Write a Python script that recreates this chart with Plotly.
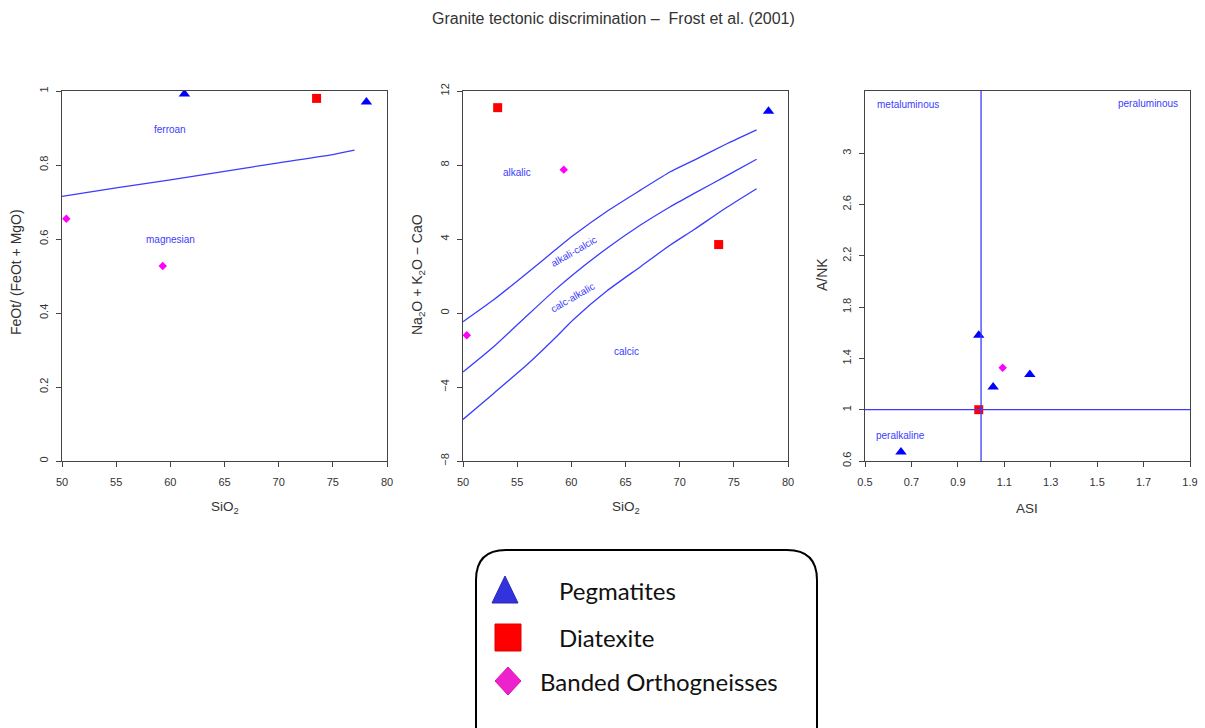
import plotly.graph_objects as go

W, H = 1205, 728

# ---------------- data ----------------
# Panel 1: FeOt/(FeOt+MgO) vs SiO2
peg_sio2_fe = [61.3, 78.1]
peg_fe = [0.992, 0.97]
dia_sio2_fe = [73.5]
dia_fe = [0.98]
band_sio2_fe = [50.4, 59.3]
band_fe = [0.655, 0.527]
fe_line_sio2 = [50, 55, 60, 65, 70, 75, 77]
fe_line_val = [0.715, 0.738, 0.76, 0.783, 0.806, 0.828, 0.84]

# Panel 2: MALI vs SiO2
peg_sio2_mali = [78.2]
peg_mali = [10.9]
dia_sio2_mali = [53.2, 73.6]
dia_mali = [11.1, 3.7]
band_sio2_mali = [50.35, 59.3]
band_mali = [-1.2, 7.75]
mali_sio2 = [50, 52.8, 55.9, 58.5, 60.2, 63.3, 66.35, 69.1, 71.3, 74.4, 77.1]
mali_upper = [-0.47, 0.7, 2.15, 3.4, 4.2, 5.5, 6.63, 7.62, 8.25, 9.16, 9.9]
mali_middle = [-3.19, -1.84, -0.15, 1.25, 2.1, 3.5, 4.74, 5.73, 6.45, 7.44, 8.31]
mali_lower = [-5.75, -4.36, -2.8, -1.35, -0.35, 1.2, 2.49, 3.66, 4.5, 5.73, 6.72]

# Panel 3: A/NK vs ASI
peg_asi = [0.99, 1.052, 1.21, 0.655]
peg_ank = [1.58, 1.177, 1.275, 0.67]
dia_asi = [0.99]
dia_ank = [1.0]
band_asi = [1.093]
band_ank = [1.327]
asi_boundary = 1.0
ank_boundary = 1.0

x1_ticks = [50, 55, 60, 65, 70, 75, 80]
y1_ticks = [0, 0.2, 0.4, 0.6, 0.8, 1]
y1_labels = ["0", "0.2", "0.4", "0.6", "0.8", "1"]
y2_ticks = [-8, -4, 0, 4, 8, 12]
x3_ticks = [0.5, 0.7, 0.9, 1.1, 1.3, 1.5, 1.7, 1.9]
y3_ticks = [0.6, 1, 1.4, 1.8, 2.2, 2.6, 3]

legend_names = ["Pegmatites", "Diatexite", "Banded Orthogneisses"]

# ---------------- styling ----------------
BLUE = "#0000ff"
LINE_BLUE = "#3c3cff"
RED = "#ff0000"
MAG = "#ff00ff"
AX = "#444444"
TICKFONT = dict(family="Liberation Sans, Arial", size=11, color="#333333")


def px(x):
    return x / W


def py(y):
    return 1 - y / H


fig = go.Figure()


def pts(x, y, sym, color, size, xa, ya):
    fig.add_trace(go.Scatter(x=x, y=y, mode="markers", xaxis=xa, yaxis=ya,
                             marker=dict(symbol=sym, color=color, size=size,
                                         line=dict(width=0)),
                             showlegend=False, hoverinfo="skip"))


def line(x, y, xa, ya):
    fig.add_trace(go.Scatter(x=x, y=y, mode="lines", xaxis=xa, yaxis=ya,
                             line=dict(color=LINE_BLUE, width=1.3, shape="spline",
                                       smoothing=0.6),
                             showlegend=False, hoverinfo="skip"))


# panel 1
line(fe_line_sio2, fe_line_val, "x", "y")
pts(peg_sio2_fe, peg_fe, "triangle-up", BLUE, 10, "x", "y")
pts(dia_sio2_fe, dia_fe, "square", RED, 9, "x", "y")
pts(band_sio2_fe, band_fe, "diamond", MAG, 6.5, "x", "y")

# panel 2
for c in (mali_upper, mali_middle, mali_lower):
    line(mali_sio2, c, "x2", "y2")
pts(peg_sio2_mali, peg_mali, "triangle-up", BLUE, 10, "x2", "y2")
pts(dia_sio2_mali, dia_mali, "square", RED, 9, "x2", "y2")
pts(band_sio2_mali, band_mali, "diamond", MAG, 6.5, "x2", "y2")

# panel 3
pts(peg_asi, peg_ank, "triangle-up", BLUE, 10, "x3", "y3")
pts(dia_asi, dia_ank, "square", RED, 9, "x3", "y3")
pts(band_asi, band_ank, "diamond", MAG, 6.5, "x3", "y3")

ydom = [py(461), py(91)]
common = dict(showgrid=False, zeroline=False, showline=True, mirror=True,
              linecolor=AX, linewidth=1.3, ticks="outside", ticklen=5,
              tickcolor=AX, tickwidth=1, tickfont=TICKFONT, automargin=False)

fig.update_layout(
    width=W, height=H, margin=dict(l=0, r=0, t=0, b=0, pad=0),
    paper_bgcolor="white", plot_bgcolor="white", showlegend=False,
    xaxis=dict(domain=[px(62), px(387)], range=[50, 80], tickvals=x1_ticks,
               anchor="y", ticklabelstandoff=6, **common),
    yaxis=dict(domain=ydom, range=[0, 1], tickvals=y1_ticks, ticktext=y1_labels,
               anchor="x", tickangle=-90, ticklabelstandoff=3, **common),
    xaxis2=dict(domain=[px(463), px(788)], range=[50, 80], tickvals=x1_ticks,
                anchor="y2", ticklabelstandoff=6, **common),
    yaxis2=dict(domain=ydom, range=[-8, 12], tickvals=y2_ticks,
                anchor="x2", tickangle=-90, ticklabelstandoff=3, **common),
    xaxis3=dict(domain=[px(865), px(1190)], range=[0.5, 1.9], tickvals=x3_ticks,
                anchor="y3", ticklabelstandoff=6, **common),
    yaxis3=dict(domain=ydom, range=[0.6, 3.485], tickvals=y3_ticks,
                anchor="x3", tickangle=-90, ticklabelstandoff=3, **common),
)

shapes = []
# reference lines in panel 3
shapes.append(dict(type="line", xref="x3", yref="paper", x0=asi_boundary, x1=asi_boundary,
                   y0=ydom[0], y1=ydom[1], line=dict(color=LINE_BLUE, width=1.3)))
shapes.append(dict(type="line", xref="paper", yref="y3", x0=px(865), x1=px(1190),
                   y0=ank_boundary, y1=ank_boundary, line=dict(color=LINE_BLUE, width=1.3)))

# legend box (rounded rectangle, bottom runs past the page)
L, R, T, B, r = 476, 817, 550, 760, 30
path = (f"M {px(L + r)},{py(T)} L {px(R - r)},{py(T)} Q {px(R)},{py(T)} {px(R)},{py(T + r)} "
        f"L {px(R)},{py(B - r)} Q {px(R)},{py(B)} {px(R - r)},{py(B)} "
        f"L {px(L + r)},{py(B)} Q {px(L)},{py(B)} {px(L)},{py(B - r)} "
        f"L {px(L)},{py(T + r)} Q {px(L)},{py(T)} {px(L + r)},{py(T)} Z")
shapes.append(dict(type="path", xref="paper", yref="paper", path=path,
                   line=dict(color="#000000", width=2), fillcolor="rgba(0,0,0,0)"))
# legend glyphs
tri = f"M {px(492)},{py(603)} L {px(518)},{py(603)} L {px(505)},{py(576)} Z"
shapes.append(dict(type="path", xref="paper", yref="paper", path=tri,
                   fillcolor="#3333dd", line=dict(color="#2a2ab0", width=1)))
shapes.append(dict(type="rect", xref="paper", yref="paper", x0=px(495), x1=px(521),
                   y0=py(651), y1=py(624), fillcolor="#ff0000", line=dict(color="#e00000", width=1)))
dia = (f"M {px(508)},{py(667)} L {px(521)},{py(681)} L {px(508)},{py(695)} "
       f"L {px(495)},{py(681)} Z")
shapes.append(dict(type="path", xref="paper", yref="paper", path=dia,
                   fillcolor="#ee22cc", line=dict(color="#dd11bb", width=1)))
fig.update_layout(shapes=shapes)

ann = []


def a_paper(x, y, text, size=12, angle=0, xanchor="center", color="#333333",
            family="Liberation Sans, Arial"):
    ann.append(dict(xref="paper", yref="paper", x=px(x), y=py(y), text=text,
                    showarrow=False, textangle=angle, xanchor=xanchor, yanchor="middle",
                    font=dict(family=family, size=size, color=color)))


def a_data(xa, ya, x, y, text, angle=0):
    ann.append(dict(xref=xa, yref=ya, x=x, y=y, text=text, showarrow=False,
                    textangle=angle, font=dict(family="Liberation Sans, Arial", size=10,
                                               color="#3c3cff")))


a_paper(613, 18, "Granite tectonic discrimination \u2013  Frost et al. (2001)", size=16)
# axis titles
a_paper(225, 507, "SiO<sub>2</sub>", size=13.5)
a_paper(626, 507, "SiO<sub>2</sub>", size=13.5)
a_paper(1027, 509, "ASI", size=13.5)
a_paper(16, 272, "FeOt/ (FeOt + MgO)", size=14, angle=-90)
a_paper(418, 275, "Na<sub>2</sub>O + K<sub>2</sub>O \u2212 CaO", size=14, angle=-90)
a_paper(822, 275, "A/NK", size=14, angle=-90)

# field labels
a_data("x", "y", 60.0, 0.895, "ferroan")
a_data("x", "y", 60.0, 0.599, "magnesian")
a_data("x2", "y2", 55.0, 7.62, "alkalic")
a_data("x2", "y2", 60.2, 3.35, "alkali-calcic", angle=-30)
a_data("x2", "y2", 60.1, 0.86, "calc-alkalic", angle=-30)
a_data("x2", "y2", 65.1, -2.1, "calcic")
a_data("x3", "y3", 0.685, 3.38, "metaluminous")
a_data("x3", "y3", 1.717, 3.39, "peraluminous")
a_data("x3", "y3", 0.652, 0.80, "peralkaline")

# legend text
a_paper(557, 590, legend_names[0], size=24, xanchor="left", color="#111111", family="Lato")
a_paper(557, 637, legend_names[1], size=24, xanchor="left", color="#111111", family="Lato")
a_paper(538, 681, legend_names[2], size=24, xanchor="left", color="#111111", family="Lato")

fig.update_layout(annotations=ann)

fig.write_html("out.html")
